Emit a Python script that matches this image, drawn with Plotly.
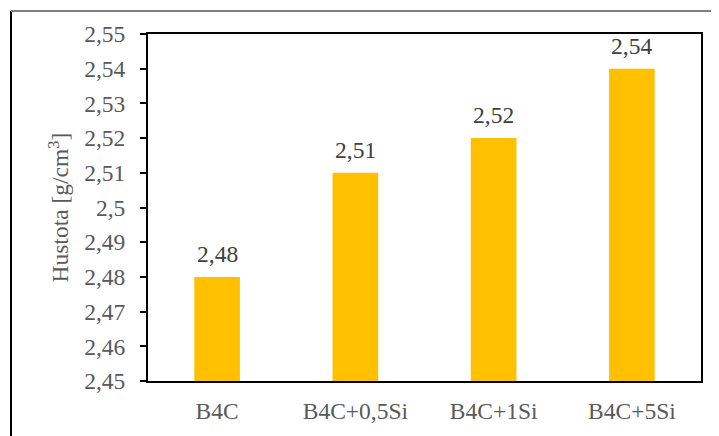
import plotly.graph_objects as go

categories = ["B4C", "B4C+0,5Si", "B4C+1Si", "B4C+5Si"]
density = [2.48, 2.51, 2.52, 2.54]
density_labels = ["2,48", "2,51", "2,52", "2,54"]
tick_values = [2.45, 2.46, 2.47, 2.48, 2.49, 2.50, 2.51, 2.52, 2.53, 2.54, 2.55]
tick_labels = ["2,45", "2,46", "2,47", "2,48", "2,49", "2,5", "2,51", "2,52", "2,53", "2,54", "2,55"]
y_title = "Hustota [g/cm<sup>3</sup>]"

# page body has an 8px default margin; compensate so screen pixels match
OFF = 8
W, H = 719, 436
L, R, T, B = 148 - OFF, 18 + OFF, 34 - OFF, 55 + OFF
pw, ph = W - L - R, H - T - B

FONT = "Liberation Serif, Times New Roman, serif"
FS = 23.5

def px_x(p):
    return (p - OFF - L) / pw

def px_y(p):
    return (H - B - (p - OFF)) / ph

fig = go.Figure()
fig.add_trace(go.Bar(
    x=categories, y=density, width=0.33,
    marker=dict(color="#FFC000", line=dict(width=0)),
    cliponaxis=False, hoverinfo="skip",
))

annotations = [
    dict(x=c, y=v, xref="x", yref="y", text=t, showarrow=False,
         yanchor="bottom", xanchor="center", yshift=8,
         font=dict(family=FONT, size=FS, color="#404040"))
    for c, v, t in zip(categories, density, density_labels)
]
annotations.append(dict(
    x=px_x(58), y=0.5, xref="paper", yref="paper", text=y_title,
    textangle=-90, showarrow=False, xanchor="center", yanchor="middle",
    font=dict(family=FONT, size=FS, color="#595959")))

fig.update_layout(
    width=W, height=H,
    margin=dict(l=L, r=R, t=T, b=B, pad=0),
    paper_bgcolor="white", plot_bgcolor="white",
    showlegend=False, bargap=0.67,
    font=dict(family=FONT, size=FS, color="#595959"),
    xaxis=dict(showline=True, linecolor="black", linewidth=2, mirror=True,
               ticks="", tickfont=dict(family=FONT, size=FS, color="#595959"),
               ticklabelstandoff=8, showgrid=False),
    yaxis=dict(range=[2.45, 2.55], tickvals=tick_values, ticktext=tick_labels,
               showline=True, linecolor="black", linewidth=2, mirror=True,
               ticks="outside", ticklen=6, tickwidth=2, tickcolor="black",
               ticklabelstandoff=10,
               showgrid=False, zeroline=False,
               tickfont=dict(family=FONT, size=FS, color="#595959")),
    annotations=annotations,
    shapes=[
        dict(type="line", xref="paper", yref="paper",
             x0=px_x(11), x1=px_x(11), y0=px_y(11), y1=px_y(450),
             line=dict(color="black", width=2)),
        dict(type="line", xref="paper", yref="paper",
             x0=px_x(11), x1=px_x(730), y0=px_y(11), y1=px_y(11),
             line=dict(color="#7f7f7f", width=2)),
    ],
)

fig.write_html("out.html")
